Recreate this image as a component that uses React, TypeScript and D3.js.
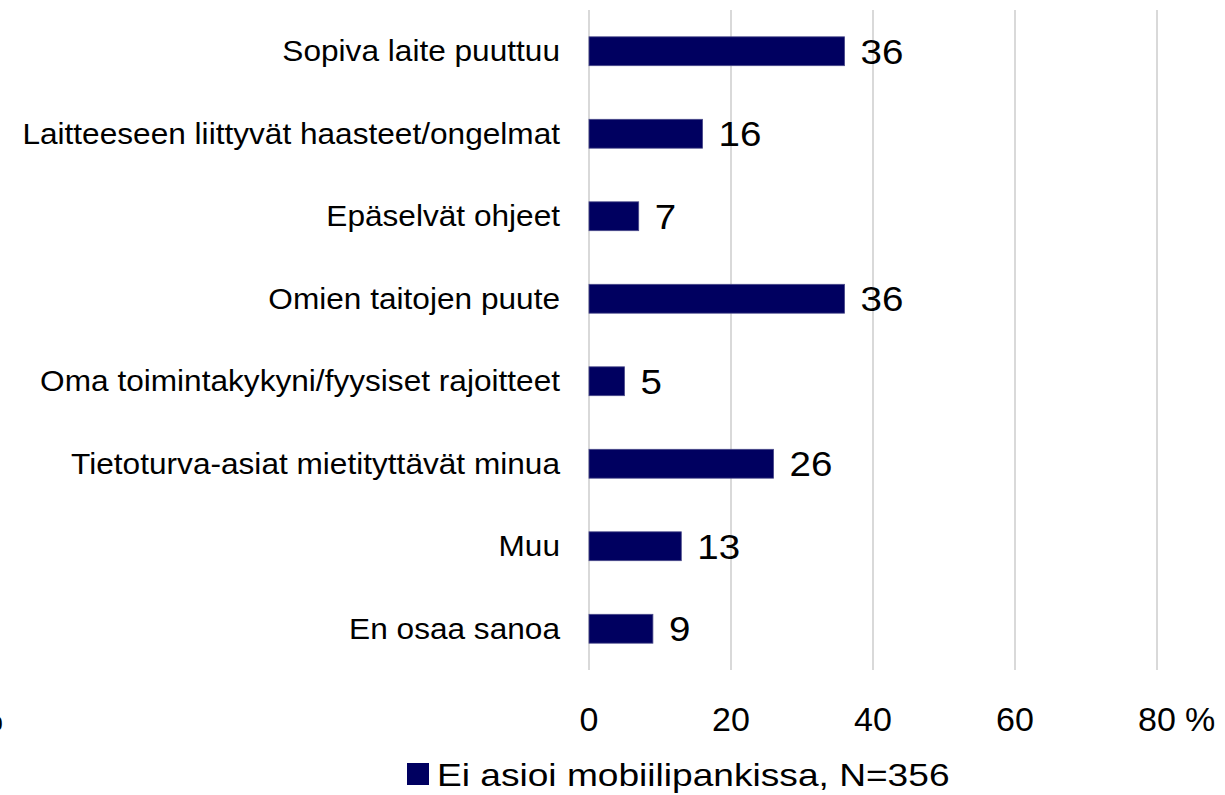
import * as d3 from "d3";

const categories = [
  "Sopiva laite puuttuu",
  "Laitteeseen liittyvät haasteet/ongelmat",
  "Epäselvät ohjeet",
  "Omien taitojen puute",
  "Oma toimintakykyni/fyysiset rajoitteet",
  "Tietoturva-asiat mietityttävät minua",
  "Muu",
  "En osaa sanoa",
];
const values = [36, 16, 7, 36, 5, 26, 13, 9];
const ticks = [0, 20, 40, 60, 80];
const seriesName = "Ei asioi mobiilipankissa, N=356";

const W = 1225;
const H = 795;
const font = "Liberation Sans, Arial, sans-serif";
const barColor = "#000060";

const App = () => {
  const x = d3.scaleLinear().domain([0, 80]).range([589, 1157]);
  const y = d3.scaleBand().domain(categories).range([10, 670]).paddingInner(0.65).paddingOuter(0.325);
  const mid = (c: string) => y(c)! + y.bandwidth() / 2;

  return (
    <svg width={W} height={H} style={{position: "absolute", left: 0, top: 0, background: "#fff"}} fontFamily={font}>
      {ticks.map(t => (
        <line key={t} x1={x(t)} x2={x(t)} y1={10} y2={670} stroke="#d9d9d9" strokeWidth={2} />
      ))}
      {categories.map((c, i) => (
        <g key={c}>
          <text transform={`translate(560,${mid(c)}) scale(1.09,1)`} dy="0.35em" textAnchor="end" fontSize={29} fill="#000">{c}</text>
          <rect x={x(0)} y={y(c)} width={x(values[i]) - x(0)} height={y.bandwidth()} fill={barColor} stroke="#4a4a8a" strokeWidth={0.8} />
          <text transform={`translate(${x(values[i]) + 16},${mid(c)}) scale(1.1,1)`} dy="0.36em" fontSize={35} fill="#000">{values[i]}</text>
        </g>
      ))}
      {ticks.map(t => (
        <text key={t} x={x(t)} y={731} textAnchor="middle" fontSize={34} fill="#000">{t}</text>
      ))}
      <text x={1185} y={731} fontSize={34} fill="#000">%</text>
      <text x={3} y={731} textAnchor="end" fontSize={34} fill="#000">%</text>
      <rect x={407} y={763} width={22} height={22} fill={barColor} />
      <text transform="translate(437,786) scale(1.16,1)" fontSize={32} fill="#000">{seriesName}</text>
    </svg>
  );
};

export default App;
